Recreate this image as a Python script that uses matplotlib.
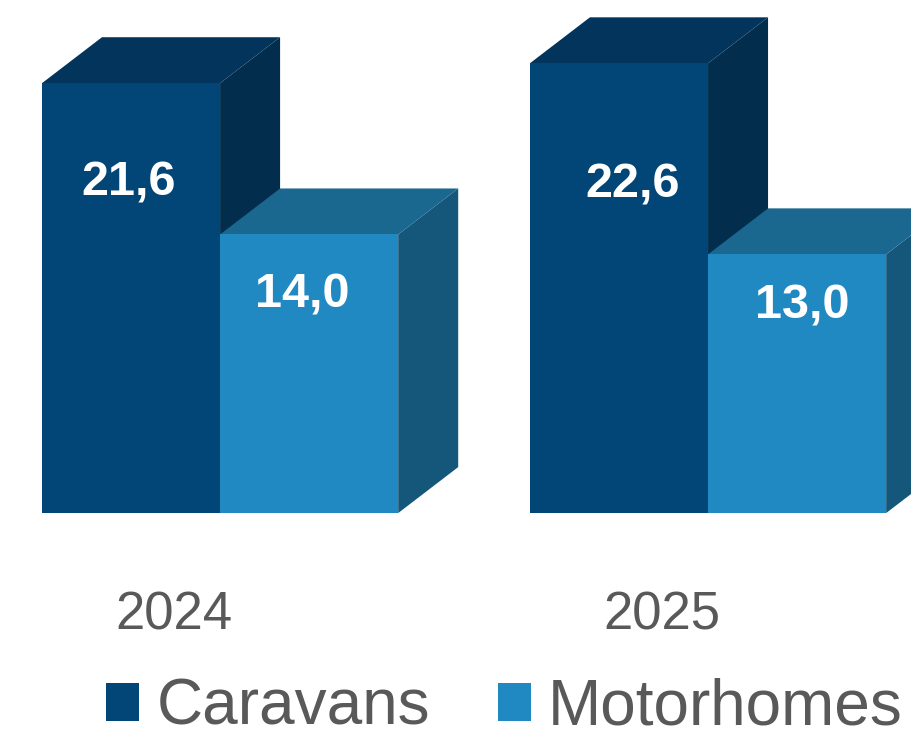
import matplotlib
matplotlib.use("Agg")
import matplotlib.pyplot as plt
from matplotlib.patches import Polygon, Rectangle

plt.rcParams["font.family"] = ["Liberation Sans", "DejaVu Sans"]

# Data
years = ["2024", "2025"]
series = ["Caravans", "Motorhomes"]
caravans = [21.6, 22.6]
motorhomes = [14.0, 13.0]
value_labels = [["21,6", "22,6"], ["14,0", "13,0"]]

# Label placement inside the front faces: (x offset from group centre, baseline height)
label_anchor = [[(-0.1865, 15.98), (-0.1537, 15.88)],
                [(0.168, 10.35), (0.1936, 9.8)]]

# Face colours: front, top, side
colours = {
    "Caravans": ("#024677", "#03355c", "#022d4c"),
    "Motorhomes": ("#2189c2", "#1a678f", "#15577a"),
}
text_grey = "#595959"

fig = plt.figure(figsize=(9.12, 7.31), dpi=100)
ax = fig.add_axes([0, 0, 1, 1])
ax.set_xlim(-0.451, 1.418)
ax.set_ylim(-10.95, 25.78)
ax.axis("off")

bar_w = 0.365      # front face width (group units)
dx = 0.123         # depth offset, horizontal
dy = 2.31          # depth offset, vertical (value units)


def draw_box(x0, value, col, label=None):
    front, top, side = col
    x1 = x0 + bar_w
    # side face
    ax.add_patch(Polygon([(x1, 0), (x1 + dx, dy), (x1 + dx, value + dy), (x1, value)],
                         closed=True, facecolor=side, edgecolor="none", zorder=2))
    # top face
    ax.add_patch(Polygon([(x0, value), (x0 + dx, value + dy), (x1 + dx, value + dy), (x1, value)],
                         closed=True, facecolor=top, edgecolor="none", zorder=2))
    # front face
    rect = Rectangle((x0, 0), bar_w, value, facecolor=front, edgecolor="none",
                     zorder=3, label=label)
    ax.add_patch(rect)
    return rect


handles = []
for i, year in enumerate(years):
    center = i
    for j, (name, vals) in enumerate(zip(series, [caravans, motorhomes])):
        x0 = center - bar_w + j * bar_w
        r = draw_box(x0, vals[i], colours[name], label=name if i == 0 else None)
        if i == 0:
            handles.append(r)
        lx, ly = label_anchor[j][i]
        ax.text(center + lx, ly, value_labels[j][i],
                ha="center", va="baseline", color="white", fontsize=35,
                fontweight="bold", zorder=5)
    ax.text(center - 0.095, -5.83, year, ha="center", va="baseline",
            color=text_grey, fontsize=38)

fig.legend(handles=handles, loc="center", bbox_to_anchor=(0.553, 0.032),
           ncol=2, frameon=False, fontsize=46, labelcolor=text_grey,
           handlelength=0.52, handleheight=0.52, handletextpad=0.27,
           columnspacing=1.06, borderpad=0, borderaxespad=0)

fig.savefig("out.png", dpi=100)
